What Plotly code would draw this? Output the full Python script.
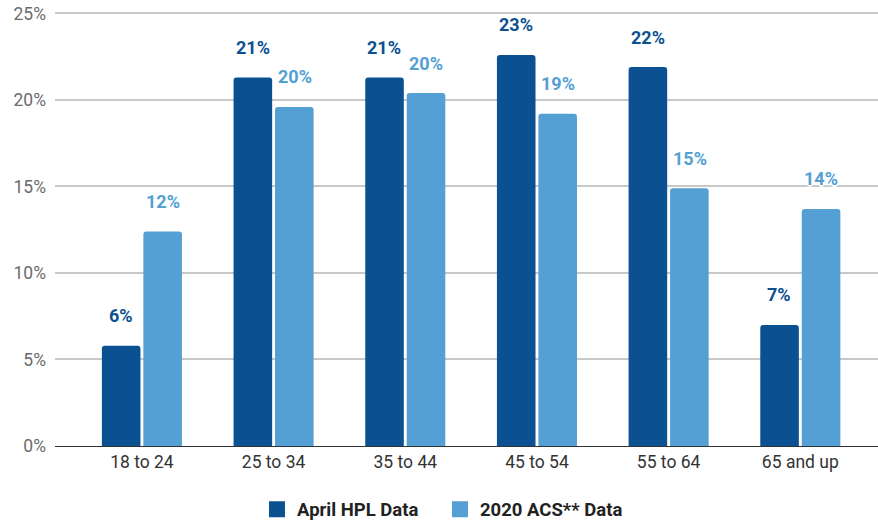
import plotly.graph_objects as go

# --- data ---
age_groups = ["18 to 24", "25 to 34", "35 to 44", "45 to 54", "55 to 64", "65 and up"]
hpl_values = [5.8, 21.3, 21.3, 22.6, 21.9, 7.0]
acs_values = [12.4, 19.6, 20.4, 19.2, 14.9, 13.7]
series_names = ["April HPL Data", "2020 ACS** Data"]
y_ticks = [0, 5, 10, 15, 20, 25]

DARK = "#0b5191"
LIGHT = "#549fd3"
HALO = ("1px 1px 1px white, -1px -1px 1px white, 1px -1px 1px white, "
        "-1px 1px 1px white, 0 2px 1px white, 0 -2px 1px white, 2px 0 1px white, -2px 0 1px white")

fig = go.Figure()
for name, vals, color in [(series_names[0], hpl_values, DARK), (series_names[1], acs_values, LIGHT)]:
    fig.add_trace(go.Bar(
        name=name, x=age_groups, y=vals, showlegend=False,
        marker=dict(color=color, cornerradius=3, line=dict(width=0)),
        hoverinfo="skip",
    ))

# legend entries with bigger square swatches
for name, color in [(series_names[0], DARK), (series_names[1], LIGHT)]:
    fig.add_trace(go.Scatter(
        name=name, x=[None], y=[None], mode="markers",
        marker=dict(symbol="square", size=18, color=color),
    ))

# value labels floated above bars
for vals, color, xs in [(hpl_values, DARK, -21), (acs_values, LIGHT, 21)]:
    for cat, v in zip(age_groups, vals):
        fig.add_annotation(
            x=cat, y=v, text=f"{round(v)}%", showarrow=False,
            xshift=xs, yshift=30, yanchor="middle",
            font=dict(family="Roboto", size=18, color=color, weight="bold", shadow=HALO),
        )

fig.update_layout(
    width=878, height=520,
    margin=dict(l=55, r=0, t=9.5, b=74, autoexpand=False),
    plot_bgcolor="white", paper_bgcolor="white",
    barmode="group", bargap=0.37, bargroupgap=0.07,
    font=dict(family="Roboto", size=17, color="#333333"),
    showlegend=True,
    legend=dict(
        orientation="h", xref="container", x=0.2927, xanchor="left",
        yref="container", y=0.02, yanchor="middle",
        font=dict(family="Roboto", size=18.5, color="#222222", weight="bold"),
        entrywidth=138, tracegroupgap=0, itemsizing="trace",
    ),
    xaxis=dict(
        range=[-0.66, 5.59], automargin=False,
        showgrid=False, showline=True, linecolor="#333333", linewidth=1,
        ticks="", tickfont=dict(size=17.5, color="#333333"),
    ),
    yaxis=dict(
        range=[0, 25.2], tickmode="array", tickvals=y_ticks,
        ticktext=[f"{t}%" for t in y_ticks], automargin=False,
        showgrid=True, gridcolor="#c8c8c8", gridwidth=1.5,
        zeroline=False, ticks="", ticklabelstandoff=8,
        tickfont=dict(size=17.5, color="#6b6b6b"),
    ),
)

# drop the browser's default 8px body margin so the figure fills the window
fig.write_html("out.html", config={"displayModeBar": False},
               post_script="document.body.style.margin='0';")
